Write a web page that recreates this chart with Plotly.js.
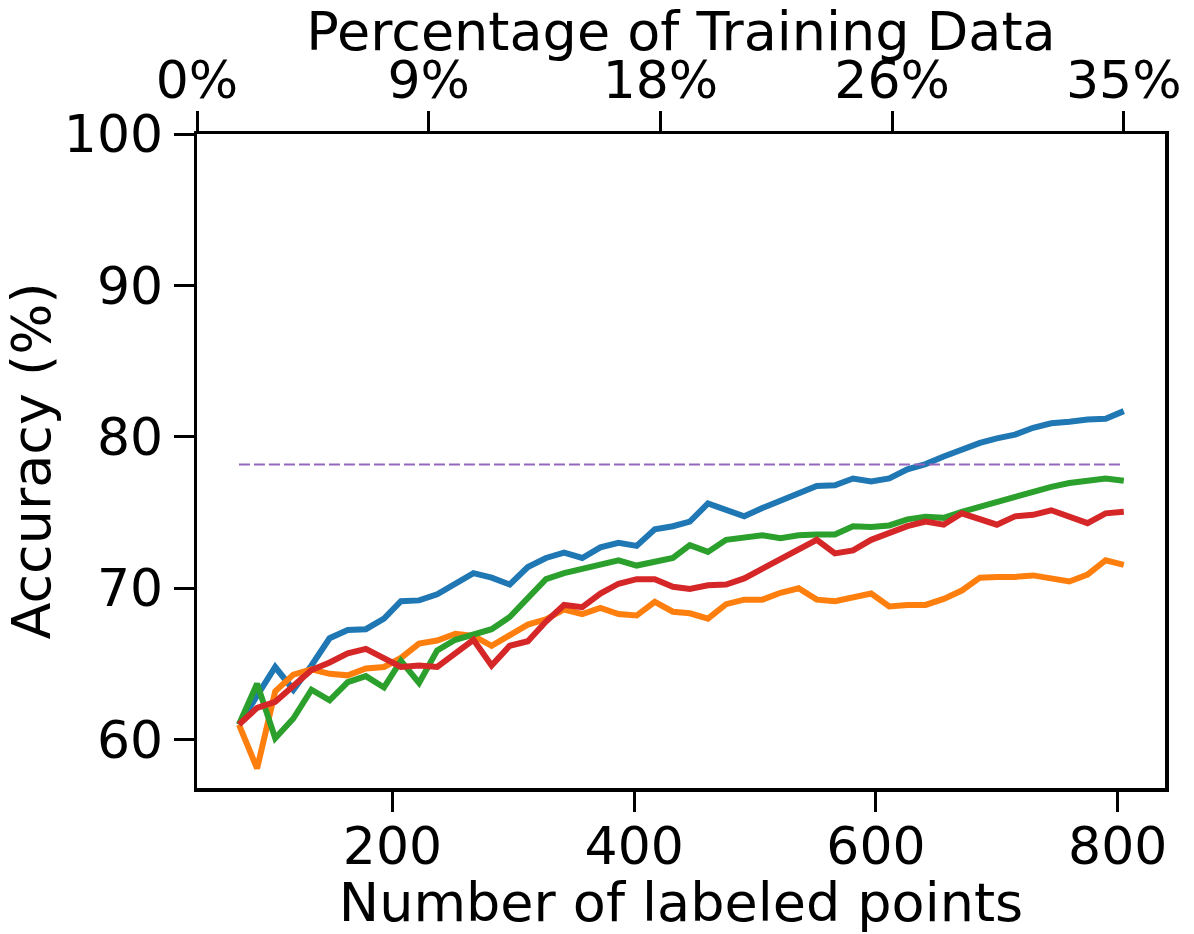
<!DOCTYPE html>
<html>
<head>
<meta charset="utf-8">
<script src="https://cdn.plot.ly/plotly-3.0.1.min.js"></script>
<style>
  html, body { margin: 0; padding: 0; background: #ffffff; }
  #chart { width: 1194px; height: 934px; }
</style>
</head>
<body>
<div id="chart"></div>
<script>
// Number of labeled points (x values shared by all series)
const labeledPoints = [73, 88, 103, 118, 133, 148, 163, 178, 193, 207,
  222, 237, 252, 267, 282, 297, 312, 327, 342, 357,
  372, 387, 402, 417, 432, 446, 461, 476, 491, 506,
  521, 536, 551, 566, 581, 596, 611, 626, 641, 656,
  671, 686, 700, 715, 730, 745, 760, 775, 790, 805];

// Accuracy (%) per method
const seriesBlue = [61.0, 62.9, 64.8, 63.3, 64.9, 66.7, 67.25, 67.3, 68.0, 69.15,
  69.2, 69.6, 70.25, 71.0, 70.7, 70.25, 71.4, 72.0, 72.35, 72.0,
  72.7, 73.0, 72.8, 73.9, 74.1, 74.4, 75.6, 75.2, 74.75, 75.3,
  75.8, 76.2, 76.75, 76.8, 77.25, 77.05, 77.25, 77.85, 78.2, 78.7,
  79.15, 79.6, 79.9, 80.15, 80.6, 80.9, 81.0, 81.15, 81.2, 81.7];

const seriesOrange = [61.0, 58.1, 63.2, 64.3, 64.65, 64.35, 64.25, 64.7, 64.8, 65.4,
  66.35, 66.55, 67.0, 66.85, 66.2, 66.95, 67.6, 67.95, 68.6, 68.3,
  68.7, 68.3, 68.2, 69.1, 68.45, 68.35, 68.0, 68.95, 69.25, 69.25,
  69.7, 70.0, 69.25, 69.15, 69.35, 69.65, 68.8, 68.9, 68.9, 69.3,
  69.85, 70.7, 70.75, 70.75, 70.85, 70.6, 70.45, 70.9, 71.85, 71.55];

const seriesGreen = [61.0, 63.7, 60.1, 61.4, 63.3, 62.6, 63.8, 64.2, 63.45, 65.2,
  63.75, 65.9, 66.6, 66.9, 67.3, 68.1, 69.4, 70.6, 71.0, 71.3,
  71.5, 71.85, 71.5, 71.75, 72.0, 72.85, 72.4, 73.2, 73.33, 73.5,
  73.3, 73.5, 73.55, 73.55, 74.1, 74.05, 74.15, 74.55, 74.72, 74.65,
  75.05, 75.4, 75.7, 76.0, 76.4, 76.7, 76.95, 77.15, 77.25, 77.1];

const seriesRed = [61.0, 62.1, 62.5, 63.5, 64.6, 65.1, 65.7, 66.0, 65.4, 64.8,
  64.9, 64.8, 65.7, 66.6, 64.9, 66.2, 66.5, 67.8, 68.9, 68.75,
  69.65, 70.3, 70.6, 70.6, 70.1, 69.95, 70.2, 70.25, 70.65, 71.3,
  71.85, 72.6, 73.2, 72.3, 72.5, 73.2, 73.7, 74.1, 74.4, 74.2,
  74.95, 74.6, 74.2, 74.75, 74.85, 75.15, 74.7, 74.3, 74.95, 75.05];

// Reference accuracy (dashed horizontal line)
const referenceAccuracy = 78.18;

// Axis ticks
const xTickVals = [200, 400, 600, 800];
const yTickVals = [60, 70, 80, 90, 100];
const pctTickVals = [0, 8.75, 17.5, 26.25, 35];
const pctTickText = ['0%', '9%', '18%', '26%', '35%'];

const FONT = 'DejaVu Sans, Liberation Sans, sans-serif';
const LW = 6;

const traces = [
  { x: labeledPoints, y: seriesBlue, type: 'scatter', mode: 'lines',
    line: { color: '#1f77b4', width: LW }, showlegend: false, hoverinfo: 'skip' },
  { x: labeledPoints, y: seriesOrange, type: 'scatter', mode: 'lines',
    line: { color: '#ff7f0e', width: LW }, showlegend: false, hoverinfo: 'skip' },
  { x: labeledPoints, y: seriesGreen, type: 'scatter', mode: 'lines',
    line: { color: '#2ca02c', width: LW }, showlegend: false, hoverinfo: 'skip' },
  { x: labeledPoints, y: seriesRed, type: 'scatter', mode: 'lines',
    line: { color: '#d62728', width: LW }, showlegend: false, hoverinfo: 'skip' },
  { x: [labeledPoints[0], labeledPoints[labeledPoints.length - 1]],
    y: [referenceAccuracy, referenceAccuracy], type: 'scatter', mode: 'lines',
    line: { color: '#9467bd', width: 2, dash: '11px,4px' }, showlegend: false, hoverinfo: 'skip' },
  // helper so the top (percentage) axis is drawn; invisible
  { x: [pctTickVals[0], pctTickVals[pctTickVals.length - 1]],
    y: [referenceAccuracy, referenceAccuracy], xaxis: 'x2', type: 'scatter', mode: 'lines',
    line: { color: 'rgba(0,0,0,0)', width: 0 }, showlegend: false, hoverinfo: 'skip' }
];

const axisCommon = {
  showgrid: false, zeroline: false,
  showline: true, linecolor: '#000000', linewidth: 3.5,
  ticks: 'outside', ticklen: 20, tickwidth: 3, tickcolor: '#000000',
  tickfont: { family: FONT, size: 52, color: '#000000' }
};

const layout = {
  width: 1194, height: 934,
  margin: { l: 197, r: 29, t: 134, b: 146, pad: 0 },
  paper_bgcolor: '#ffffff', plot_bgcolor: '#ffffff',
  font: { family: FONT, color: '#000000' },
  showlegend: false,
  xaxis: Object.assign({}, axisCommon, {
    range: [38.3, 839.1], tickmode: 'array', tickvals: xTickVals,
    mirror: true, ticklabelstandoff: -10,
    title: { text: 'Number of labeled points', font: { family: FONT, size: 54, color: '#000000' }, standoff: 12 }
  }),
  xaxis2: Object.assign({}, axisCommon, {
    overlaying: 'x', side: 'top', anchor: 'y',
    range: [0, 36.555], tickmode: 'array', tickvals: pctTickVals, ticktext: pctTickText,
    ticklabelstandoff: -8,
    title: { text: 'Percentage of Training Data', font: { family: FONT, size: 54, color: '#000000' }, standoff: 8 }
  }),
  yaxis: Object.assign({}, axisCommon, {
    range: [56.81, 100], tickmode: 'array', tickvals: yTickVals,
    mirror: true,
    title: { text: 'Accuracy (%)', font: { family: FONT, size: 54, color: '#000000' }, standoff: 12 }
  })
};

Plotly.newPlot('chart', traces, layout, { displayModeBar: false, staticPlot: true });
</script>
</body>
</html>
